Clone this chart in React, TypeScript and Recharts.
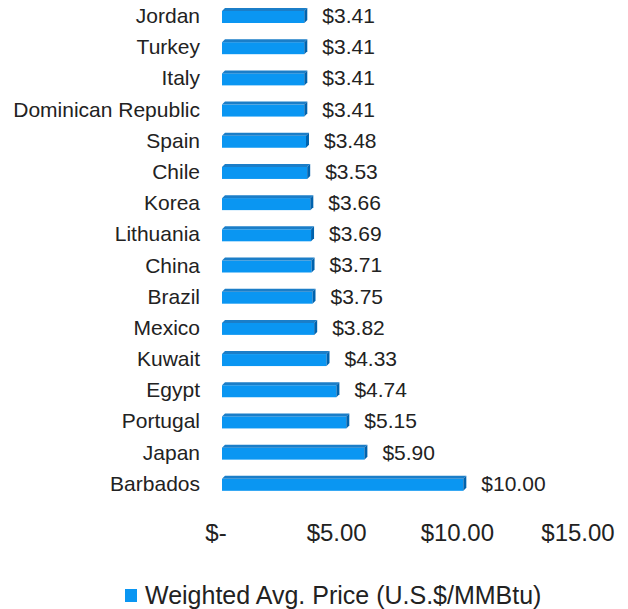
import { Bar, BarChart, LabelList, Legend, XAxis, YAxis } from "recharts"

const countries = [
  "Jordan",
  "Turkey",
  "Italy",
  "Dominican Republic",
  "Spain",
  "Chile",
  "Korea",
  "Lithuania",
  "China",
  "Brazil",
  "Mexico",
  "Kuwait",
  "Egypt",
  "Portugal",
  "Japan",
  "Barbados",
]
const prices = [3.41, 3.41, 3.41, 3.41, 3.48, 3.53, 3.66, 3.69, 3.71, 3.75, 3.82, 4.33, 4.74, 5.15, 5.9, 10.0]
const xTicks = [0, 5, 10, 15]
const seriesName = "Weighted Avg. Price (U.S.$/MMBtu)"

const FONT = "'Liberation Sans', Arial, sans-serif"
const BLUE = "#0a96f2"

const fmtMoney = (v: number) => (v === 0 ? "$-" : `$${v.toFixed(2)}`)

// flat bar with a thin top face and darker right face, like the excel 3d style
function Bar3D(props: any) {
  const { x, y, width, height } = props
  if (!width || width <= 0) return null
  const d = 3
  return (
    <g>
      <rect x={x} y={y + d} width={width} height={height - d} fill={BLUE} />
      <polygon
        points={`${x},${y + d} ${x + d},${y} ${x + width + d},${y} ${x + width},${y + d}`}
        fill="#1b7ec8"
      />
      <polygon
        points={`${x + width},${y + d} ${x + width + d},${y} ${x + width + d},${y + height - d} ${x + width},${y + height}`}
        fill="#0062ad"
      />
    </g>
  )
}

function XTick(props: any) {
  const { x, y, payload } = props
  return (
    <text x={x - 6} y={y} dy="0.71em" textAnchor="middle" fontSize={24} fill="#222" fontFamily={FONT}>
      {fmtMoney(payload.value)}
    </text>
  )
}

function LegendBox() {
  return (
    <div style={{ paddingTop: 32, paddingLeft: 125, display: "flex", alignItems: "center", fontFamily: FONT }}>
      <span style={{ display: "inline-block", width: 12, height: 13, background: BLUE, marginRight: 8 }} />
      <span style={{ fontSize: 25, color: "#222", lineHeight: "29px" }}>{seriesName}</span>
    </div>
  )
}

export default function App() {
  const data = countries.map((c, i) => ({ country: c, price: prices[i] }))

  return (
    <div style={{ marginLeft: -8, marginTop: -8, background: "#fff" }}>
      <BarChart
        width={628}
        height={609}
        data={data}
        layout="vertical"
        margin={{ top: 0, right: 44, bottom: 0, left: 0 }}
        barSize={15}
      >
        <XAxis
          type="number"
          domain={[0, 15]}
          ticks={xTicks}
          axisLine={false}
          tickLine={false}
          tickSize={0}
          tickMargin={25}
          height={50}
          tick={<XTick />}
        />
        <YAxis
          type="category"
          dataKey="country"
          width={222}
          axisLine={false}
          tickLine={false}
          tickSize={0}
          tickMargin={22}
          tick={{ fontSize: 21, fill: "#222", fontFamily: FONT }}
          interval={0}
        />
        <Legend verticalAlign="bottom" height={60} content={<LegendBox />} />
        <Bar dataKey="price" name={seriesName} fill={BLUE} shape={<Bar3D />} isAnimationActive={false}>
          <LabelList
            dataKey="price"
            position="right"
            offset={18}
            formatter={(v: any) => fmtMoney(Number(v))}
            style={{ fontSize: 21, fill: "#222", fontFamily: FONT }}
          />
        </Bar>
      </BarChart>
    </div>
  )
}
